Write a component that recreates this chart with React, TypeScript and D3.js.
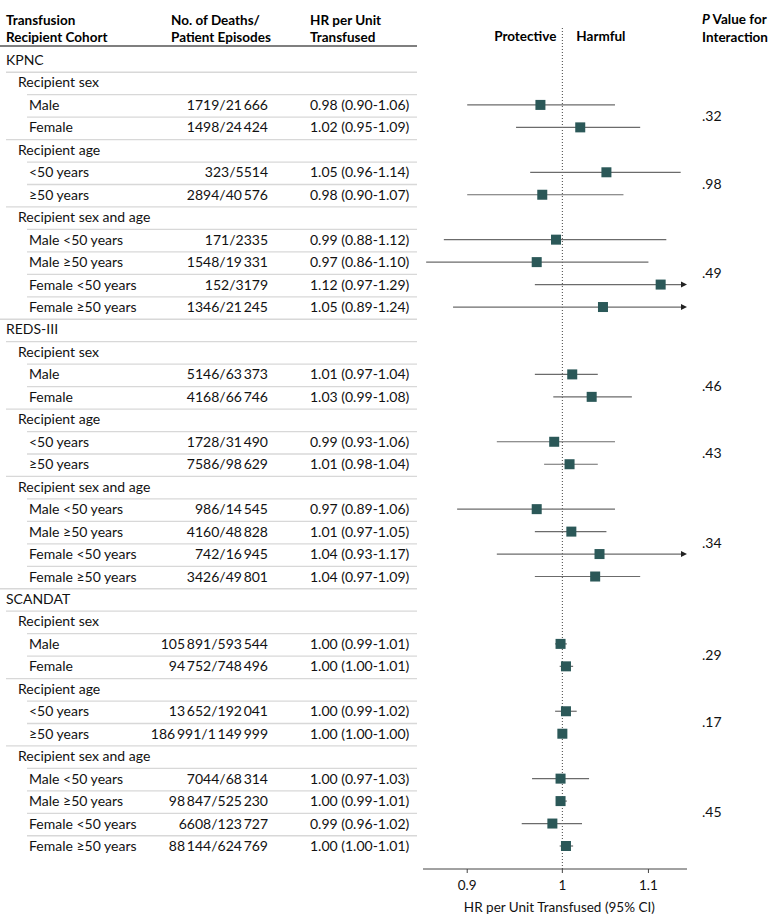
import React from "react";
import * as d3 from "d3";

const labels = [
  "KPNC", "Recipient sex", "Male", "Female", "Recipient age", "<50 years", "≥50 years",
  "Recipient sex and age", "Male <50 years", "Male ≥50 years", "Female <50 years", "Female ≥50 years",
  "REDS-III", "Recipient sex", "Male", "Female", "Recipient age", "<50 years", "≥50 years",
  "Recipient sex and age", "Male <50 years", "Male ≥50 years", "Female <50 years", "Female ≥50 years",
  "SCANDAT", "Recipient sex", "Male", "Female", "Recipient age", "<50 years", "≥50 years",
  "Recipient sex and age", "Male <50 years", "Male ≥50 years", "Female <50 years", "Female ≥50 years",
];
const levels = [
  0, 1, 2, 2, 1, 2, 2, 1, 2, 2, 2, 2,
  0, 1, 2, 2, 1, 2, 2, 1, 2, 2, 2, 2,
  0, 1, 2, 2, 1, 2, 2, 1, 2, 2, 2, 2,
];
const T = "\u2009";
const deaths = [
  "", "", "1719/21" + T + "666", "1498/24" + T + "424", "", "323/5514", "2894/40" + T + "576",
  "", "171/2335", "1548/19" + T + "331", "152/3179", "1346/21" + T + "245",
  "", "", "5146/63" + T + "373", "4168/66" + T + "746", "", "1728/31" + T + "490", "7586/98" + T + "629",
  "", "986/14" + T + "545", "4160/48" + T + "828", "742/16" + T + "945", "3426/49" + T + "801",
  "", "", "105" + T + "891/593" + T + "544", "94" + T + "752/748" + T + "496", "", "13" + T + "652/192" + T + "041", "186" + T + "991/1" + T + "149" + T + "999",
  "", "7044/68" + T + "314", "98" + T + "847/525" + T + "230", "6608/123" + T + "727", "88" + T + "144/624" + T + "769",
];
const hrText = [
  "", "", "0.98 (0.90-1.06)", "1.02 (0.95-1.09)", "", "1.05 (0.96-1.14)", "0.98 (0.90-1.07)",
  "", "0.99 (0.88-1.12)", "0.97 (0.86-1.10)", "1.12 (0.97-1.29)", "1.05 (0.89-1.24)",
  "", "", "1.01 (0.97-1.04)", "1.03 (0.99-1.08)", "", "0.99 (0.93-1.06)", "1.01 (0.98-1.04)",
  "", "0.97 (0.89-1.06)", "1.01 (0.97-1.05)", "1.04 (0.93-1.17)", "1.04 (0.97-1.09)",
  "", "", "1.00 (0.99-1.01)", "1.00 (1.00-1.01)", "", "1.00 (0.99-1.02)", "1.00 (1.00-1.00)",
  "", "1.00 (0.97-1.03)", "1.00 (0.99-1.01)", "0.99 (0.96-1.02)", "1.00 (1.00-1.01)",
];
// point estimates and CI bounds (NaN = no marker)
const N = NaN;
const hr = [
  N, N, 0.976, 1.02, N, 1.05, 0.978, N, 0.993, 0.972, 1.115, 1.046,
  N, N, 1.011, 1.033, N, 0.991, 1.008, N, 0.972, 1.010, 1.042, 1.037,
  N, N, 0.998, 1.004, N, 1.004, 1.0, N, 0.998, 0.998, 0.989, 1.004,
];
const lo = [
  N, N, 0.90, 0.95, N, 0.965, 0.90, N, 0.877, 0.86, 0.97, 0.886,
  N, N, 0.97, 0.99, N, 0.93, 0.98, N, 0.89, 0.97, 0.93, 0.97,
  N, N, 0.992, 0.997, N, 0.992, 0.998, N, 0.967, 0.993, 0.956, 0.997,
];
const hi = [
  N, N, 1.06, 1.09, N, 1.14, 1.07, N, 1.122, 1.10, 1.29, 1.24,
  N, N, 1.04, 1.08, N, 1.06, 1.04, N, 1.06, 1.05, 1.17, 1.09,
  N, N, 1.005, 1.012, N, 1.016, 1.002, N, 1.03, 1.005, 1.022, 1.012,
];
const pValues = [".32", ".98", ".49", ".46", ".43", ".34", ".29", ".17", ".45"];
const pSpans = [[2, 3], [5, 6], [8, 11], [14, 15], [17, 18], [20, 23], [26, 27], [29, 30], [32, 35]];
const ticks = [0.9, 1, 1.1];
const domainHR = [0.857, 1.148];

const FONT = "Lato, 'Noto Sans', sans-serif";

export default function App() {
  const x = d3.scaleLog().domain(domainHR).range([423, 687]);
  const y = d3.scaleLinear().domain([0, labels.length - 1]).range([60, 846]);
  const indentX = [6, 18, 29];
  const lineStart = [0, 6, 27];
  const axisY = 869;
  const marker = "#2b5858";
  const xr = x(1);

  return (
    <svg width={780} height={924} style={{ position: "absolute", left: 0, top: 0, background: "#fff" }} fontFamily={FONT}>
      {/* headers */}
      <g fontWeight="bold" fontSize={13.5} fill="#000">
        <text x={6} y={25}>Transfusion</text>
        <text x={6} y={42}>Recipient Cohort</text>
        <text x={171} y={25}>No. of Deaths/</text>
        <text x={171} y={42}>Patient Episodes</text>
        <text x={310} y={25}>HR per Unit</text>
        <text x={310} y={42}>Transfused</text>
        <text x={xr - 6} y={41} textAnchor="end">Protective</text>
        <text x={xr + 14} y={41}>Harmful</text>
        <text x={702} y={24}><tspan fontStyle="italic">P</tspan> Value for</text>
        <text x={702} y={42}>Interaction</text>
      </g>
      <line x1={0} x2={417} y1={46} y2={46} stroke="#000" strokeWidth={1.2} />
      {/* separators */}
      {labels.slice(1).map((_, i) => (
        <line key={"s" + i} x1={lineStart[levels[i + 1]]} x2={417}
          y1={(y(i) + y(i + 1)) / 2 + 1} y2={(y(i) + y(i + 1)) / 2 + 1}
          stroke="#d8d8d8" strokeWidth={1.3} />
      ))}
      {/* table text */}
      <g fontSize={14} fill="#111">
        {labels.map((l, i) => (
          <g key={"r" + i}>
            <text x={indentX[levels[i]]} y={y(i) + 5}>{l}</text>
            {deaths[i] && <text x={268} y={y(i) + 5} textAnchor="end">{deaths[i]}</text>}
            {hrText[i] && <text x={310} y={y(i) + 5}>{hrText[i]}</text>}
          </g>
        ))}
      </g>
      {/* reference line */}
      <line x1={xr} x2={xr} y1={28} y2={axisY} stroke="#444" strokeWidth={1} strokeDasharray="1,2" />
      {/* CIs & markers */}
      {hr.map((v, i) => {
        if (isNaN(v)) return null;
        const x1 = x(Math.max(lo[i], domainHR[0]));
        const over = hi[i] > domainHR[1];
        const x2 = over ? x(domainHR[1]) : x(hi[i]);
        const cy = y(i);
        return (
          <g key={"m" + i}>
            <line x1={x1} x2={over ? x2 - 4 : x2} y1={cy} y2={cy} stroke="#6b6b6b" strokeWidth={1.2} />
            {over && <path d={`M${x2},${cy} L${x2 - 6},${cy - 3} L${x2 - 6},${cy + 3} Z`} fill="#222" />}
            <rect x={x(v) - 5} y={cy - 5} width={10} height={10} fill={marker} />
          </g>
        );
      })}
      {/* p values */}
      <g fontSize={14} fill="#111">
        {pValues.map((p, k) => (
          <text key={"p" + k} x={702} y={(y(pSpans[k][0]) + y(pSpans[k][1])) / 2 + 5}>{p}</text>
        ))}
      </g>
      {/* axis */}
      <line x1={423} x2={687} y1={axisY} y2={axisY} stroke="#444" strokeWidth={1} />
      {ticks.map((t) => (
        <g key={"t" + t}>
          <line x1={x(t)} x2={x(t)} y1={axisY} y2={axisY + 4} stroke="#444" />
          <text x={x(t)} y={890} textAnchor="middle" fontSize={13.5} fill="#111">{String(t)}</text>
        </g>
      ))}
      <text x={xr - 3} y={912} textAnchor="middle" fontSize={13.5} fill="#111">HR per Unit Transfused (95% CI)</text>
    </svg>
  );
}
